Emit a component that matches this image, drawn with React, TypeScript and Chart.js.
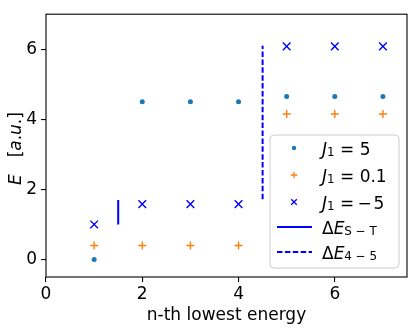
import React, { useEffect, useRef } from 'react';
import { Chart, registerables } from 'chart.js';

Chart.register(...registerables);

// ---- data ----
const nIndex = [1, 2, 3, 4, 5, 6, 7];
const energyJ1Pos5 = [0, 4.5, 4.5, 4.5, 4.65, 4.65, 4.65];
const energyJ1Small = [0.4, 0.4, 0.4, 0.4, 4.15, 4.15, 4.15];
const energyJ1Neg5 = [1.0, 1.58, 1.58, 1.58, 6.08, 6.08, 6.08];
const gapSTx = [1.5, 1.5];
const gapSTy = [1.0, 1.7];
const gap45x = [4.5, 4.5];
const gap45y = [1.72, 6.1];
const xTicks = [0, 2, 4, 6];
const yTicks = [0, 2, 4, 6];
const xRange = [0, 7.5];
const yRange = [-0.5, 7];

const FONT = "'DejaVu Sans'";
const FS = 17;
const C_BLUE = '#1f77b4';
const C_ORANGE = '#ff7f0e';
const C_PURE = '#0000ff';

type Seg = { t: string; it?: boolean; sub?: boolean };

function segFont(s: Seg, fs: number) {
  const size = s.sub ? fs * 0.7 : fs;
  return `${s.it ? 'italic ' : ''}${size}px ${FONT}`;
}

function drawMath(ctx: CanvasRenderingContext2D, segs: Seg[], x: number, y: number, fs: number, align: 'left' | 'center') {
  let total = 0;
  const widths = segs.map((s) => {
    ctx.font = segFont(s, fs);
    const w = ctx.measureText(s.t).width;
    total += w;
    return w;
  });
  let cx = align === 'center' ? x - total / 2 : x;
  ctx.textAlign = 'left';
  ctx.textBaseline = 'alphabetic';
  segs.forEach((s, i) => {
    ctx.font = segFont(s, fs);
    ctx.fillText(s.t, cx, s.sub ? y + fs * 0.1 : y);
    cx += widths[i];
  });
}

function toPts(xs: number[], ys: number[]) {
  return xs.map((x, i) => ({ x, y: ys[i] }));
}

const decorPlugin = {
  id: 'decor',
  afterDraw(chart: any) {
    const ctx: CanvasRenderingContext2D = chart.ctx;
    const a = chart.chartArea;
    ctx.save();
    // spines
    ctx.strokeStyle = '#000';
    ctx.lineWidth = 1.1;
    ctx.strokeRect(a.left, a.top, a.right - a.left, a.bottom - a.top);
    ctx.fillStyle = '#000';
    // x title
    drawMath(ctx, [{ t: 'n-th lowest energy' }], (a.left + a.right) / 2, a.bottom + 43, FS, 'center');
    // y title
    ctx.save();
    ctx.translate(21, (a.top + a.bottom) / 2 + 3);
    ctx.rotate(-Math.PI / 2);
    drawMath(
      ctx,
      [{ t: 'E', it: true }, { t: '\u2003' }, { t: '[' }, { t: 'a', it: true }, { t: '.' }, { t: 'u', it: true }, { t: '.]' }],
      0, 0, FS, 'center'
    );
    ctx.restore();

    // legend
    const bx = a.right - 137;
    const by = a.bottom - 142;
    const bw = 129;
    const bh = 133;
    const r = 4;
    ctx.beginPath();
    ctx.moveTo(bx + r, by);
    ctx.arcTo(bx + bw, by, bx + bw, by + bh, r);
    ctx.arcTo(bx + bw, by + bh, bx, by + bh, r);
    ctx.arcTo(bx, by + bh, bx, by, r);
    ctx.arcTo(bx, by, bx + bw, by, r);
    ctx.closePath();
    ctx.fillStyle = 'rgba(255,255,255,0.8)';
    ctx.fill();
    ctx.strokeStyle = '#cccccc';
    ctx.lineWidth = 1;
    ctx.stroke();

    const mx = bx + 24;
    const tx = bx + 52;
    const rows = [by + 13, by + 40, by + 67, by + 92, by + 117];
    // dot
    ctx.fillStyle = C_BLUE;
    ctx.beginPath();
    ctx.arc(mx, rows[0], 2.2, 0, Math.PI * 2);
    ctx.fill();
    // plus
    ctx.strokeStyle = C_ORANGE;
    ctx.lineWidth = 1.3;
    ctx.beginPath();
    ctx.moveTo(mx - 3.2, rows[1]);
    ctx.lineTo(mx + 3.2, rows[1]);
    ctx.moveTo(mx, rows[1] - 3.2);
    ctx.lineTo(mx, rows[1] + 3.2);
    ctx.stroke();
    // x
    ctx.strokeStyle = C_PURE;
    ctx.beginPath();
    ctx.moveTo(mx - 2.8, rows[2] - 2.8);
    ctx.lineTo(mx + 2.8, rows[2] + 2.8);
    ctx.moveTo(mx + 2.8, rows[2] - 2.8);
    ctx.lineTo(mx - 2.8, rows[2] + 2.8);
    ctx.stroke();
    // solid line
    ctx.lineWidth = 2;
    ctx.beginPath();
    ctx.moveTo(bx + 7, rows[3]);
    ctx.lineTo(bx + 42, rows[3]);
    ctx.stroke();
    // dashed line
    ctx.setLineDash([5.5, 2.4]);
    ctx.beginPath();
    ctx.moveTo(bx + 7, rows[4]);
    ctx.lineTo(bx + 42, rows[4]);
    ctx.stroke();
    ctx.setLineDash([]);

    ctx.fillStyle = '#000';
    const labels: Seg[][] = [
      [{ t: 'J', it: true }, { t: '1', sub: true }, { t: ' = 5' }],
      [{ t: 'J', it: true }, { t: '1', sub: true }, { t: ' = 0.1' }],
      [{ t: 'J', it: true }, { t: '1', sub: true }, { t: ' =\u2009\u2212\u200A5' }],
      [{ t: '\u0394' }, { t: 'E', it: true }, { t: 'S \u2212 T', sub: true }],
      [{ t: '\u0394' }, { t: 'E', it: true }, { t: '4 \u2212 5', sub: true }],
    ];
    labels.forEach((segs, i) => drawMath(ctx, segs, tx, rows[i] + 6.5, FS, 'left'));
    ctx.restore();
  },
};

export default function App() {
  const ref = useRef<HTMLCanvasElement | null>(null);
  useEffect(() => {
    if (!ref.current) return;
    const tickFont = { family: FONT, size: FS };
    const chart = new Chart(ref.current, {
      type: 'scatter',
      data: {
        datasets: [
          {
            label: 'J1=5',
            data: toPts(nIndex, energyJ1Pos5),
            pointStyle: 'circle',
            pointRadius: 2.5,
            backgroundColor: C_BLUE,
            borderWidth: 0,
          },
          {
            label: 'J1=0.1',
            data: toPts(nIndex, energyJ1Small),
            pointStyle: 'cross',
            pointRadius: 4,
            borderColor: C_ORANGE,
            backgroundColor: C_ORANGE,
            borderWidth: 1.4,
          },
          {
            label: 'J1=-5',
            data: toPts(nIndex, energyJ1Neg5),
            pointStyle: 'crossRot',
            pointRadius: 5.4,
            borderColor: C_PURE,
            backgroundColor: C_PURE,
            borderWidth: 1.4,
          },
          {
            label: 'dE S-T',
            data: toPts(gapSTx, gapSTy),
            showLine: true,
            pointRadius: 0,
            borderColor: C_PURE,
            borderWidth: 2,
          },
          {
            label: 'dE 4-5',
            data: toPts(gap45x, gap45y),
            showLine: true,
            pointRadius: 0,
            borderColor: C_PURE,
            borderWidth: 2,
            borderDash: [5.5, 2.4],
          },
        ] as any,
      },
      options: {
        animation: false,
        responsive: false,
        devicePixelRatio: 1,
        layout: { padding: { left: 0, top: 7, right: 8, bottom: 0 } },
        plugins: { legend: { display: false }, tooltip: { enabled: false } },
        scales: {
          x: {
            type: 'linear',
            min: xRange[0],
            max: xRange[1],
            afterBuildTicks: (s: any) => { s.ticks = xTicks.map((v) => ({ value: v })); },
            afterFit: (s: any) => { s.height = 52; },
            grid: { drawOnChartArea: false, drawTicks: true, tickLength: 5, color: '#000', lineWidth: 1.1 },
            border: { display: false },
            ticks: { color: '#000', font: tickFont, padding: 2, maxRotation: 0, autoSkip: false },
          },
          y: {
            type: 'linear',
            min: yRange[0],
            max: yRange[1],
            afterBuildTicks: (s: any) => { s.ticks = yTicks.map((v) => ({ value: v })); },
            afterFit: (s: any) => { s.width = 46; },
            grid: { drawOnChartArea: false, drawTicks: true, tickLength: 5, color: '#000', lineWidth: 1.1 },
            border: { display: false },
            ticks: { color: '#000', font: tickFont, padding: 4, autoSkip: false },
          },
        },
      } as any,
      plugins: [decorPlugin],
    });
    return () => chart.destroy();
  }, []);
  return (
    <div style={{ position: 'absolute', left: 0, top: 0, width: 415, height: 329, background: '#fff' }}>
      <canvas ref={ref} width={415} height={329} style={{ width: 415, height: 329 }} />
    </div>
  );
}
